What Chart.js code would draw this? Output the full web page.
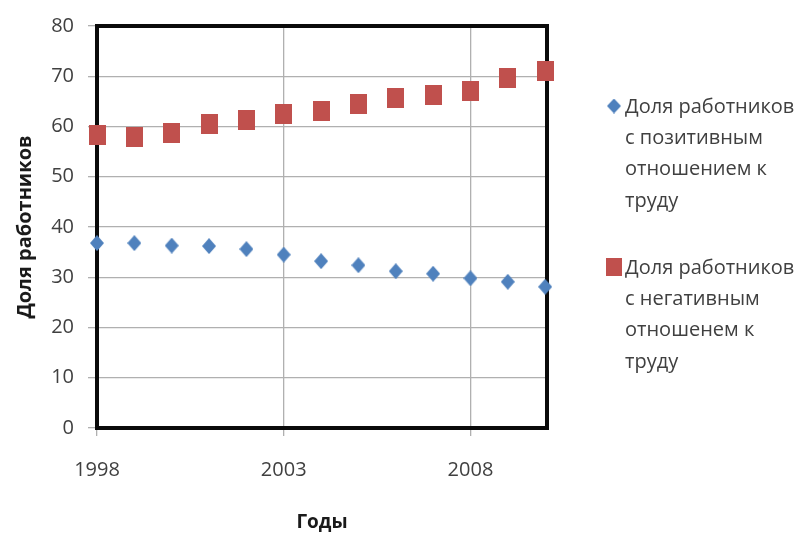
<!DOCTYPE html>
<html>
<head>
<meta charset="utf-8">
<script src="https://cdn.jsdelivr.net/npm/chart.js@4.4.0/dist/chart.umd.min.js"></script>
<style>
html, body { margin: 0; padding: 0; background: #ffffff; }
#wrap { width: 799px; height: 534px; }
</style>
</head>
<body>
<div id="wrap"><canvas id="c" width="799" height="534"></canvas></div>
<script>
// ---- data ----
const years = [1998, 1999, 2000, 2001, 2002, 2003, 2004, 2005, 2006, 2007, 2008, 2009, 2010];
const positiveShare = [36.8, 36.8, 36.3, 36.2, 35.6, 34.5, 33.2, 32.4, 31.2, 30.7, 29.8, 29.1, 28.1];
const negativeShare = [58.3, 57.9, 58.7, 60.5, 61.2, 62.4, 63.0, 64.4, 65.6, 66.2, 67.0, 69.6, 71.1];
const xTickValues = [1998, 2003, 2008];
const yTickValues = [0, 10, 20, 30, 40, 50, 60, 70, 80];
const positiveLabelLines = ["Доля работников", "с позитивным", "отношением к", "труду"];
const negativeLabelLines = ["Доля работников", "с негативным", "отношенем к", "труду"];
const xAxisTitle = "Годы";
const yAxisTitle = "Доля работников";

// ---- styles ----
const BLUE = '#4F81BD';
const RED = '#C0504D';
const TEXT = '#404040';
const FONT = "'Open Sans', 'Noto Sans', sans-serif";

function diamondImg(w, h, color) {
  const c = document.createElement('canvas');
  c.width = w; c.height = h;
  const g = c.getContext('2d');
  g.fillStyle = color;
  g.beginPath();
  g.moveTo(w / 2, 0); g.lineTo(w, h / 2); g.lineTo(w / 2, h); g.lineTo(0, h / 2);
  g.closePath(); g.fill();
  return c;
}
function rectImg(w, h, color) {
  const c = document.createElement('canvas');
  c.width = w; c.height = h;
  const g = c.getContext('2d');
  g.fillStyle = color;
  g.fillRect(0, 0, w, h);
  return c;
}

const diamondPt = diamondImg(14, 16, BLUE);
const squarePt = rectImg(17, 20, RED);
const diamondLeg = diamondImg(14, 15, BLUE);
const squareLeg = rectImg(16, 18, RED);

const positivePoints = years.map((y, i) => ({ x: y, y: positiveShare[i] }));
const negativePoints = years.map((y, i) => ({ x: y, y: negativeShare[i] }));

const framePlugin = {
  id: 'frame',
  beforeDatasetsDraw(chart) {
    const { ctx, chartArea: a } = chart;
    ctx.save();
    ctx.strokeStyle = '#0a0a0a';
    ctx.lineWidth = 4;
    ctx.strokeRect(a.left, a.top, a.right - a.left, a.bottom - a.top);
    ctx.restore();
  }
};

const legendPlugin = {
  id: 'sideLegend',
  afterDraw(chart) {
    const ctx = chart.ctx;
    const entries = [
      { img: diamondLeg, lines: positiveLabelLines, top: 106 },
      { img: squareLeg, lines: negativeLabelLines, top: 267 }
    ];
    ctx.save();
    ctx.font = "20px " + FONT;
    ctx.fillStyle = TEXT;
    ctx.textBaseline = 'middle';
    ctx.textAlign = 'left';
    entries.forEach(e => {
      ctx.drawImage(e.img, 614 - e.img.width / 2, e.top - e.img.height / 2);
      e.lines.forEach((t, i) => {
        ctx.fillText(t, 625, e.top + 1 + i * 31.3);
      });
    });
    ctx.restore();
  }
};

new Chart(document.getElementById('c'), {
  type: 'scatter',
  data: {
    datasets: [
      {
        label: positiveLabelLines.join(' '),
        data: positivePoints,
        pointStyle: diamondPt,
        backgroundColor: BLUE,
        borderColor: BLUE,
        showLine: false,
        clip: false
      },
      {
        label: negativeLabelLines.join(' '),
        data: negativePoints,
        pointStyle: squarePt,
        backgroundColor: RED,
        borderColor: RED,
        showLine: false,
        clip: false
      }
    ]
  },
  options: {
    responsive: false,
    animation: false,
    devicePixelRatio: 1,
    layout: { padding: { left: 0, top: 23, right: 252, bottom: 0 } },
    plugins: {
      legend: { display: false },
      tooltip: { enabled: false }
    },
    scales: {
      x: {
        type: 'linear',
        min: 1998,
        max: 2010.05,
        afterBuildTicks(scale) { scale.ticks = xTickValues.map(v => ({ value: v })); },
        afterFit(scale) { scale.height = 106; },
        grid: { color: '#b0b0b0', lineWidth: 1.3, tickLength: 8, drawTicks: true },
        border: { display: false },
        ticks: {
          font: { family: FONT, size: 20 },
          color: TEXT,
          padding: 22,
          maxRotation: 0,
          callback: v => String(v)
        },
        title: {
          display: true,
          text: xAxisTitle,
          font: { family: FONT, size: 19, weight: 'bold' },
          color: '#1a1a1a',
          padding: { top: 0, bottom: 0 }
        }
      },
      y: {
        type: 'linear',
        min: 0,
        max: 80,
        afterBuildTicks(scale) { scale.ticks = yTickValues.map(v => ({ value: v })); },
        afterFit(scale) { scale.width = 97; },
        grid: { color: '#b0b0b0', lineWidth: 1.3, tickLength: 9, drawTicks: true },
        border: { display: false },
        ticks: {
          font: { family: FONT, size: 20 },
          color: TEXT,
          padding: 14
        },
        title: {
          display: true,
          text: yAxisTitle,
          font: { family: FONT, size: 20, weight: 'bold' },
          color: '#1a1a1a',
          padding: { top: 13, bottom: 0 }
        }
      }
    }
  },
  plugins: [framePlugin, legendPlugin]
});
</script>
</body>
</html>
